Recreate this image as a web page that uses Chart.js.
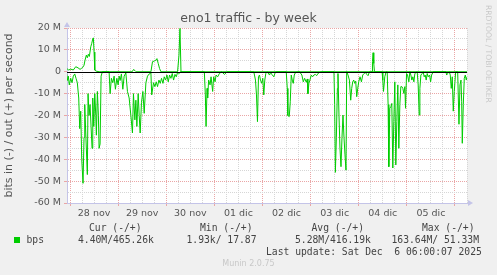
<!DOCTYPE html>
<html>
<head>
<meta charset="utf-8">
<script src="https://cdn.jsdelivr.net/npm/chart.js@4"></script>
<style>
  html, body { margin:0; padding:0; background:#f0f0f0; }
  #wrap { position:relative; width:497px; height:275px; overflow:hidden; background:#f0f0f0; }
  canvas { position:absolute; left:0; top:0; }
  .t { position:absolute; white-space:pre; font-family:"DejaVu Sans", sans-serif; color:#555; line-height:1; }
  .m { position:absolute; white-space:pre; font-family:"DejaVu Sans Mono", monospace; font-size:9.7px; color:#444; line-height:1; }
</style>
</head>
<body>
<div id="wrap">
  <canvas id="c" width="497" height="275"></canvas>
  <div class="t" id="title" style="left:0;width:497px;text-align:center;top:12px;font-size:12.5px;">eno1 traffic - by week</div>
  <div class="t" style="left:483px;top:5px;font-size:7.6px;color:#c8c8c8;transform-origin:0 0;transform:translate(9px,0) rotate(90deg);">RRDTOOL / TOBI OETIKER</div>
  <div class="m" style="left:89px;top:223px;">Cur (-/+)</div>
  <div class="m" style="left:200px;top:223px;">Min (-/+)</div>
  <div class="m" style="left:311.5px;top:223px;">Avg (-/+)</div>
  <div class="m" style="left:422px;top:223px;">Max (-/+)</div>
  <div style="position:absolute;left:14px;top:237px;width:6px;height:6px;background:#00cc00;"></div>
  <div class="m" style="left:26.5px;top:235px;">bps</div>
  <div class="m" style="left:78px;top:235px;">4.40M/465.26k</div>
  <div class="m" style="left:186.5px;top:235px;">1.93k/ 17.87</div>
  <div class="m" style="left:295px;top:235px;">5.28M/416.19k</div>
  <div class="m" style="left:391.5px;top:235px;">163.64M/ 51.33M</div>
  <div class="m" style="left:266px;top:246.5px;">Last update: Sat Dec  6 06:00:07 2025</div>
  <div class="t" style="left:0;width:497px;text-align:center;top:260px;font-size:8px;color:#c8c8c8;">Munin 2.0.75</div>
</div>
<script>
// ---- data (hours since 28 nov 00:00, values in Mbit/s) ----
const dayLabels = ['28 nov','29 nov','30 nov','01 dic','02 dic','03 dic','04 dic','05 dic'];
const yTickLabels = ['-60 M','-50 M','-40 M','-30 M','-20 M','-10 M','0','10 M','20 M'];

const inHours = [-1.65,-1.35,-0.85,-0.35,0.35,1,1.65,2.35,3,3.65,4.35,4.85,5.35,5.85,6.5,7,7.35,7.85,8.65,9,9.5,10,10.5,11,11.35,11.85,12.35,12.85,13.15,13.65,14.15,14.5,15,15.5,16.15,19.5,20,20.65,21.35,22,22.65,23.35,24,24.5,25,25.65,26.35,27,27.85,28.65,29.5,30.35,31.15,31.65,32.35,32.85,33.35,34,34.5,35,35.65,36.35,37,37.85,38.65,39.5,40.35,40.75,41.65,42.35,43,43.65,44.35,45,45.65,46.35,47,47.65,48.35,49,49.65,50.35,51,51.65,52.35,53,53.65,54.5,55,67,67.5,67.85,68.35,68.65,69.15,69.85,70.35,71.15,71.65,72.35,72.85,73.65,74.5,75.65,77,77.85,78.5,91.65,92,92.5,93,93.5,94,94.5,95,95.65,96.15,96.65,97.15,97.65,98.35,99.5,100,100.65,101.65,102.35,102.85,107.85,108.35,108.65,109.35,109.85,110.35,110.85,111.35,111.85,112.5,114.5,115.65,116.35,117,117.85,118.35,118.65,119.15,119.65,120.35,121,121.65,122.35,123,123.65,124.5,125.35,131.65,132,132.35,132.85,133.35,133.65,134.15,134.65,135.15,135.65,136.15,136.65,137.15,137.65,138,138.65,139.35,140,140.5,141,141.5,142,142.5,143,143.5,144,144.65,145.35,146,146.65,147.35,148,148.65,149.35,155.65,156,156.35,157,157.65,158.2,158.65,159,159.5,160,160.5,161,161.5,162,162.5,163,163.5,164,164.5,165,165.5,166,166.5,167,167.35,167.85,168.35,169,169.5,170,170.5,171,171.5,172,172.65,173.15,173.65,174.15,174.5,175,175.65,176.15,176.65,177.15,177.65,178.15,178.65,179.35,179.85,180.35,181.15,187.5,187.85,188.35,189.15,189.65,190.15,190.65,191.15,191.65,192.35,193.35,194,194.5,195,195.35,195.65,196.15,196.65,197.15,197.65,198];
const inValues = [-1,-4,-2,-6,-3,-5,-2,-1,-3,-5,-12,-26,-18,-40,-51,-30,-15,-28,-47,-10,-20,-15,-25,-35,-12,-25,-10,-20,-29,-9,-20,-35,-33,-2,0,0,-10,-3,-5,-2,-8,-3,-6,-2,-4,-1,-8,-2,-0.5,-9,-12,-20,-28,-10,-22,-13,-25,-10,-20,-28,-14,-9,-19,-5,-2,-1,-0.5,-10.6,-5,-6.8,-4.6,-6.8,-3.8,-5.3,-3,-5.3,-2.3,-3.8,-1.5,-4.6,-1.5,-3,-0.8,-3.8,-1.2,-2.3,-0.3,-0.8,0,0,-10.6,-25,-7.6,-12,-3.8,-6,-2.3,-9,-2.3,-4.6,-1.5,-2.3,-0.8,0,-1.2,-0.5,0,0,-1.5,-3.8,-10.6,-22.8,-2.3,-1.5,-3.8,-5.3,-3,-10.6,-3.8,-0.8,0,-1.5,-0.3,-1.2,-2.3,-0.3,0,0,-7.6,-20,-20.5,-13.7,-1.5,-3.8,-5.3,-1.5,-0.3,0,-1.5,-4.6,-3,-4.8,-3.3,-10,-5.3,-3.8,-1.5,-2.3,-1.5,-1.2,-1.8,-0.8,-0.3,0,0,-15,-46,-30,-7.6,-0.8,-19.8,-35,-43.4,-30,-19.8,-30,-38,-45,0,-1.5,-3.8,-13,-7.6,-4.6,-3.8,-5.3,-4.3,-11.4,-7.6,-4.6,-2.3,-4.6,-1.5,-0.8,-0.3,-1.2,-1.8,0,0,-3.8,-9,-2.3,0,0,-15,-43.4,-16.7,-16,-14.5,-44,-22.8,-4.6,-42.6,-22.8,-6,-35,-15,-6.8,-6.8,-7.6,-9.9,-6.8,-16.7,-0.8,-1.5,-4.6,0,-1.5,-3.8,-2.3,-4.6,-0.8,-0.3,0,-6,-19.8,-7.6,-1.5,-0.8,0,-2.3,-1.5,-3.8,-0.8,-2.3,-1.5,-4.6,-1.5,0,0,-1.5,-0.8,0,-1.5,-7.6,-2.3,-18,-9,0,0,-24,-6,-3.8,-13.7,-32.7,-15,-3,-1.5,-3.8,-2.3];

const outHours = [-1.65,-0.65,0.35,1.65,2.85,4,5,5.65,6.35,7,7.5,8.15,8.65,9.15,9.65,10.35,10.85,11.35,11.65,12,12.35,13,14.5,31,31.65,32.5,33,40.35,41.15,42,42.85,43.35,44,44.65,45.35,53.65,54.35,54.85,55.35,150.65,150.85,151.15,151.5,151.85,198];
const outValues = [1.5,0.8,1.2,0.8,2.3,1.8,1.1,1.5,2,3,5.3,7.6,6.4,8,7,11.4,13,15,15.5,9,0.8,0.3,0,0,1,0.5,0,0,4.6,4.9,5.3,6,3.8,1.5,0,0,7.6,19.8,0,0,4.6,8.7,3.8,0,0];

const MEGA = 1e6;
const toPoints = (hs, vs) => hs.map((h, i) => ({ x: h, y: vs[i] * MEGA }));

const GREEN = '#00cc00';
const RED_GRID = '#eaa6a6';
const GRAY_GRID = '#d6d6d6';
const AXIS = '#c4c4e8';

const decor = {
  id: 'decor',
  beforeDraw(chart) {
    const { ctx, chartArea: a } = chart;
    ctx.save();
    ctx.fillStyle = '#ffffff';
    ctx.fillRect(a.left, a.top, a.right - a.left, a.bottom - a.top);
    ctx.restore();
  },
  afterDatasetsDraw(chart) {
    const { ctx, chartArea: a, scales } = chart;
    const y0 = Math.round(scales.y.getPixelForValue(0)) + 0.5;
    ctx.save();
    ctx.strokeStyle = '#000000';
    ctx.lineWidth = 1;
    ctx.beginPath();
    ctx.moveTo(a.left, y0);
    ctx.lineTo(a.right, y0);
    ctx.stroke();
    // axis arrows
    ctx.fillStyle = AXIS;
    ctx.beginPath();
    ctx.moveTo(a.left - 3, a.top - 1);
    ctx.lineTo(a.left + 3, a.top - 1);
    ctx.lineTo(a.left, a.top - 6);
    ctx.closePath();
    ctx.fill();
    ctx.beginPath();
    ctx.moveTo(a.right + 1, a.bottom - 3);
    ctx.lineTo(a.right + 1, a.bottom + 3);
    ctx.lineTo(a.right + 6, a.bottom);
    ctx.closePath();
    ctx.fill();
    ctx.restore();
  }
};

Chart.defaults.font.family = '"DejaVu Sans", sans-serif';
Chart.defaults.color = '#555';

new Chart(document.getElementById('c'), {
  type: 'line',
  data: {
    datasets: [
      { label: 'out', data: toPoints(outHours, outValues), borderColor: GREEN, borderWidth: 1, pointRadius: 0, tension: 0, fill: false },
      { label: 'in', data: toPoints(inHours, inValues), borderColor: GREEN, borderWidth: 1, pointRadius: 0, tension: 0, fill: false }
    ]
  },
  plugins: [decor],
  options: {
    responsive: false,
    animation: false,
    events: [],
    layout: { padding: { left: 0, top: 28, right: 30, bottom: 52 } },
    plugins: { legend: { display: false }, title: { display: false }, tooltip: { enabled: false } },
    scales: {
      x: {
        type: 'linear',
        min: -1.5,
        max: 198,
        afterBuildTicks: (s) => {
          const t = [];
          for (let h = 0; h <= 198; h += 6) t.push({ value: h });
          s.ticks = t;
        },
        afterFit: (s) => { s.height = 20; },
        ticks: {
          autoSkip: false,
          maxRotation: 0,
          padding: 2,
          font: { size: 9.5 },
          color: '#555',
          callback: (v) => (v % 24 === 12 ? (dayLabels[(v - 12) / 24] || '') : '')
        },
        grid: {
          color: (c) => (c.tick && c.tick.value % 24 === 0 ? RED_GRID : GRAY_GRID),
          tickColor: (c) => (c.tick && c.tick.value % 24 === 0 ? RED_GRID : 'rgba(0,0,0,0)'),
          tickLength: 3,
          lineWidth: 1
        },
        border: { display: true, color: AXIS, dash: [1, 1] }
      },
      y: {
        min: -60 * MEGA,
        max: 20 * MEGA,
        afterBuildTicks: (s) => {
          const t = [];
          for (let v = -60; v <= 20; v += 5) t.push({ value: v * MEGA });
          s.ticks = t;
        },
        afterFit: (s) => { s.width = 67; },
        title: { display: true, text: 'bits in (-) / out (+) per second', font: { size: 11 }, color: '#555', padding: { top: 3, bottom: 2 } },
        ticks: {
          autoSkip: false,
          padding: 3,
          font: { size: 9.5 },
          color: '#555',
          callback: (v) => {
            const m = Math.round(v / MEGA);
            if (m % 10 !== 0) return '';
            return yTickLabels[(m + 60) / 10];
          }
        },
        grid: {
          color: (c) => {
            const m = Math.round(c.tick.value / MEGA);
            if (m === 0) return 'rgba(0,0,0,0)';
            return m % 10 === 0 ? RED_GRID : GRAY_GRID;
          },
          tickColor: (c) => (Math.round(c.tick.value / MEGA) % 10 === 0 ? RED_GRID : 'rgba(0,0,0,0)'),
          tickLength: 3,
          lineWidth: 1
        },
        border: { display: true, color: AXIS, dash: [1, 1] }
      }
    }
  }
});
</script>
</body>
</html>
